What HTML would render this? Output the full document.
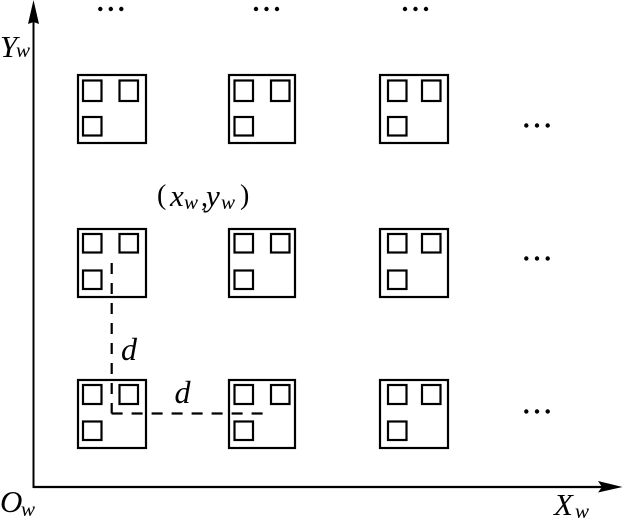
<!DOCTYPE html>
<html>
<head>
<meta charset="utf-8">
<style>
html,body{margin:0;padding:0;background:#fff;width:623px;height:519px;overflow:hidden}
svg{display:block}
text{font-family:"Liberation Serif",serif;font-style:italic;fill:#000}
.b{font-size:31px}
.d{font-size:32px}
.s{font-size:21px}
.r{font-style:normal;font-size:28px}
rect{fill:none;stroke:#000}
.o{stroke-width:2.2}
.i{stroke-width:2.2}
</style>
</head>
<body>
<svg width="623" height="519" viewBox="0 0 623 519" xmlns="http://www.w3.org/2000/svg">
<!-- axes -->
<path d="M33.5 488V20" stroke="#000" stroke-width="2" fill="none"/>
<path d="M33.5 0L39 24L33.5 22L28 24Z" fill="#000"/>
<path d="M33 487H605" stroke="#000" stroke-width="2.2" fill="none"/>
<path d="M622.5 487L598 481L602 487L598 492.5Z" fill="#000"/>

<!-- row 1 -->
<rect class="o" x="78" y="75" width="68" height="68"/>
<rect class="i" x="83" y="80.5" width="18.5" height="20.5"/>
<rect class="i" x="119.5" y="80.5" width="18.5" height="20.5"/>
<rect class="i" x="83" y="117" width="18.5" height="18.5"/>
<rect class="o" x="229" y="75" width="66" height="68"/>
<rect class="i" x="234.5" y="80.5" width="18.5" height="20.5"/>
<rect class="i" x="271" y="80.5" width="18.5" height="20.5"/>
<rect class="i" x="234.5" y="117" width="18.5" height="18.5"/>
<rect class="o" x="380" y="75" width="68" height="68"/>
<rect class="i" x="388" y="80.5" width="18.5" height="20.5"/>
<rect class="i" x="422" y="80.5" width="18.5" height="20.5"/>
<rect class="i" x="388" y="117" width="18.5" height="18.5"/>

<!-- row 2 -->
<rect class="o" x="78" y="229" width="68" height="68"/>
<rect class="i" x="83" y="234" width="18.5" height="18.5"/>
<rect class="i" x="119.5" y="234" width="18.5" height="18.5"/>
<rect class="i" x="83" y="270.5" width="18.5" height="18.5"/>
<rect class="o" x="229" y="229" width="66" height="68"/>
<rect class="i" x="234.5" y="234" width="18.5" height="18.5"/>
<rect class="i" x="271" y="234" width="18.5" height="18.5"/>
<rect class="i" x="234.5" y="270.5" width="18.5" height="18.5"/>
<rect class="o" x="380" y="229" width="68" height="68"/>
<rect class="i" x="388" y="234" width="18.5" height="18.5"/>
<rect class="i" x="422" y="234" width="18.5" height="18.5"/>
<rect class="i" x="388" y="270.5" width="18.5" height="18.5"/>

<!-- row 3 -->
<rect class="o" x="78" y="380" width="68" height="68"/>
<rect class="i" x="83" y="385" width="18.5" height="19"/>
<rect class="i" x="119.5" y="385" width="18.5" height="19"/>
<rect class="i" x="83" y="421.5" width="18.5" height="18.5"/>
<rect class="o" x="229" y="380" width="66" height="68"/>
<rect class="i" x="234.5" y="385" width="18.5" height="19"/>
<rect class="i" x="271" y="385" width="18.5" height="19"/>
<rect class="i" x="234.5" y="421.5" width="18.5" height="18.5"/>
<rect class="o" x="380" y="380" width="68" height="68"/>
<rect class="i" x="388" y="385" width="18.5" height="19"/>
<rect class="i" x="422" y="385" width="18.5" height="19"/>
<rect class="i" x="388" y="421.5" width="18.5" height="18.5"/>

<!-- dashed -->
<path d="M111.7 263V413.5" stroke="#000" stroke-width="2.2" fill="none" stroke-dasharray="11 9"/>
<path d="M262.6 413.5H110.6" stroke="#000" stroke-width="2.2" fill="none" stroke-dasharray="11 9"/>

<!-- dots -->
<g fill="#000">
<circle cx="100.3" cy="9" r="2.2"/><circle cx="110.8" cy="9" r="2.2"/><circle cx="121.3" cy="9" r="2.2"/>
<circle cx="256" cy="9" r="2.2"/><circle cx="266.5" cy="9" r="2.2"/><circle cx="277" cy="9" r="2.2"/>
<circle cx="405" cy="9" r="2.2"/><circle cx="415.5" cy="9" r="2.2"/><circle cx="426" cy="9" r="2.2"/>
<circle cx="526.3" cy="125.5" r="2.2"/><circle cx="537" cy="125.5" r="2.2"/><circle cx="547.7" cy="125.5" r="2.2"/>
<circle cx="526.3" cy="258.5" r="2.2"/><circle cx="537" cy="258.5" r="2.2"/><circle cx="547.7" cy="258.5" r="2.2"/>
<circle cx="526.3" cy="411.5" r="2.2"/><circle cx="537" cy="411.5" r="2.2"/><circle cx="547.7" cy="411.5" r="2.2"/>
</g>

<!-- labels -->
<text class="b" x="0" y="57">Y</text><text class="s" x="16" y="57">w</text>
<text class="b" x="0" y="512">O</text><text class="s" x="21" y="516">w</text>
<text class="b" x="554" y="515">X</text><text class="s" x="575" y="518">w</text>
<text class="d" x="121" y="360">d</text>
<text class="d" x="174.5" y="403">d</text>
<text class="r" x="157" y="204">(</text>
<text class="b" x="170" y="206">x</text>
<text class="s" x="184" y="209">w</text>
<text class="r" x="201" y="206">,</text>
<text class="b" x="206" y="206">y</text>
<text class="s" x="221" y="209">w</text>
<text class="r" x="240" y="204">)</text>
</svg>
</body>
</html>
